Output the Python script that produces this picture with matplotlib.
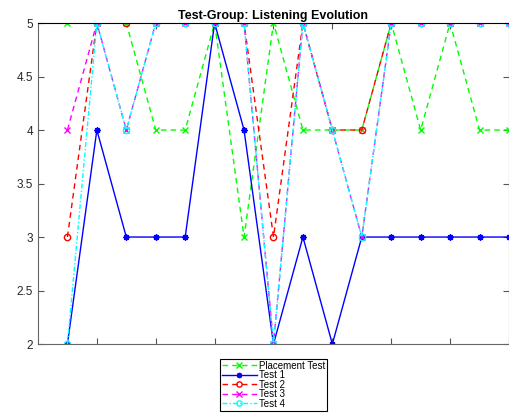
"""Listening scores of the test group across sessions."""

import numpy as np
import matplotlib
import matplotlib.pyplot as plt
from matplotlib.ticker import FormatStrFormatter

matplotlib.use("Agg")

plt.rcParams["font.family"] = ["Liberation Sans", "DejaVu Sans"]

sessions = np.arange(1, 17)
placement = [5, 5, 5, 4, 4, 5, 3, 5, 4, 4, 4, 5, 4, 5, 4, 4]
test1 = [2, 4, 3, 3, 3, 5, 4, 2, 3, 2, 3, 3, 3, 3, 3, 3]
test2 = [3, 5, 5, 5, 5, 5, 5, 3, 5, 4, 4, 5, 5, 5, 5, 5]
test3 = [4, 5, 4, 5, 5, 5, 5, 2, 5, 4, 3, 5, 5, 5, 5, 5]
test4 = [2, 5, 4, 5, 5, 5, 5, 2, 5, 4, 3, 5, 5, 5, 5, 5]

# label, values, colour, dash pattern, marker
dashed = (0, (4, 3))
dashdot = (0, (3.5, 1.5, 1, 1.5))
series = [
    ("Placement Test", placement, "#00ff00", dashed, "x"),
    ("Test 1", test1, "#0000ff", "-", (8, 2, 0)),
    ("Test 2", test2, "#ff0000", dashed, "o"),
    ("Test 3", test3, "#ff00ff", dashed, "x"),
    ("Test 4", test4, "#00ffff", dashdot, "o"),
]

fig = plt.figure(figsize=(5.1, 4.15), dpi=100)
ax = fig.add_axes([0.0745, 0.171, 0.9235, 0.7735])

for label, vals, color, ls, mk in series:
    ax.plot(sessions, vals, color=color, linestyle=ls, marker=mk,
            markersize=4.5, markerfacecolor="none", markeredgewidth=1.0,
            linewidth=1.0, label=label)

ax.set_xlim(0, 16)
ax.set_ylim(2, 5)
ax.set_xticks(np.arange(2, 17, 2))
ax.set_xticklabels([])
ax.set_yticks(np.arange(2, 5.01, 0.5))
ax.yaxis.set_major_formatter(FormatStrFormatter("%g"))
ax.tick_params(direction="in", length=4, width=0.8, color="#555555",
               labelsize=8.5, labelcolor="#262626", top=True, right=True)

for side in ("left", "bottom", "right"):
    ax.spines[side].set_color("#666666")
ax.spines["top"].set_color("black")

ax.set_title("Test-Group: Listening Evolution", fontsize=9,
             fontweight="bold", pad=3)

leg = fig.legend(loc="upper center", bbox_to_anchor=(0.536, 0.136),
                 fontsize=7, labelspacing=-0.05, handlelength=3.6,
                 handletextpad=0.2, borderpad=0.2, borderaxespad=0,
                 markerscale=0.85, fancybox=False, framealpha=1,
                 edgecolor="black")
leg.get_frame().set_linewidth(0.8)

fig.savefig("out.png", dpi=100)
plt.close(fig)
